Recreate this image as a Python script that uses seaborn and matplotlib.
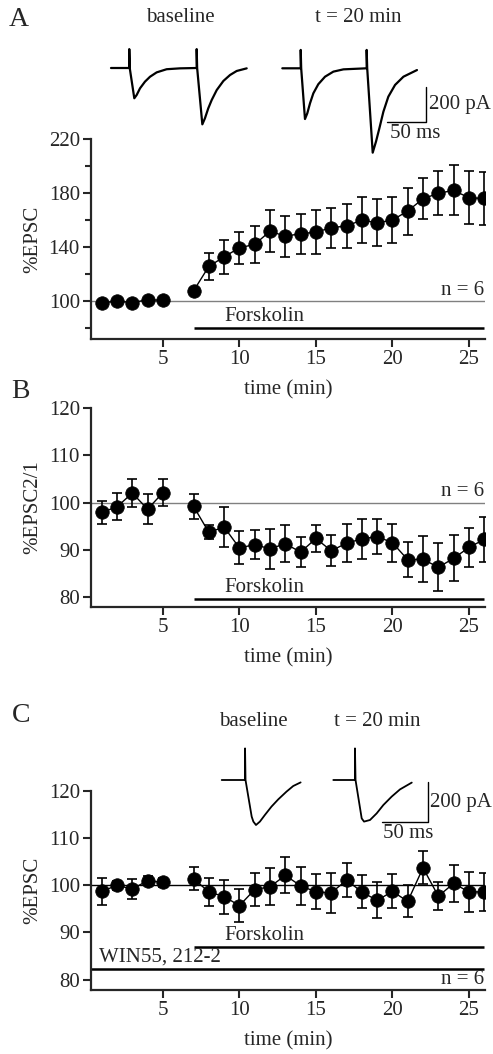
import numpy as np
import pandas as pd
import matplotlib
matplotlib.use("Agg")
import matplotlib.pyplot as plt
import seaborn as sns

# ---------------- data ----------------
time_min = [1, 2, 3, 4, 5, 7, 8, 9, 10, 11, 12, 13, 14, 15, 16, 17, 18, 19, 20, 21, 22, 23, 24, 25, 26]

epsc_A = [98.8, 100, 99, 101, 100.7, 107.6, 125.7, 132.8, 139.5, 142, 151.8, 148, 150, 151,
          154.4, 155.6, 160, 158, 160, 166.7, 175.8, 179.8, 182, 176.5, 176]
sem_A = [1.5, 1.5, 1.5, 1.5, 1.5, 2, 10.2, 12.6, 12, 13.5, 15.3, 15, 14.8, 16.2, 14.7, 16.5,
         17, 17.5, 16.8, 17.4, 15.2, 16.4, 18.5, 19.6, 19.9]

ppr_B = [97.9, 99.1, 102, 98.6, 102.1, 99.2, 93.7, 94.8, 90.4, 91.1, 90.2, 91.3, 89.5, 92.4,
         89.8, 91.4, 92.3, 92.8, 91.5, 87.9, 88, 86.3, 88.2, 90.5, 92.2]
sem_B = [2.5, 2.9, 3, 3.2, 2.9, 2.7, 1.5, 4.2, 3.5, 3.1, 4.3, 3.9, 3.2, 2.9, 3.3, 4, 4.3, 3.7,
         4, 3.7, 4.9, 5.1, 4.9, 4.2, 4.7]

epsc_C = [98.7, 100, 99.2, 101, 100.6, 101.4, 98.6, 97.6, 95.7, 99.1, 99.7, 102.1, 99.9, 98.6,
          98.4, 101.1, 98.6, 96.8, 98.7, 96.6, 103.7, 97.7, 100.4, 98.6, 98.6]
sem_C = [2.9, 1.0, 2.2, 1.0, 1.0, 2.4, 2.9, 3.6, 3.5, 3.5, 3.9, 3.8, 4, 3.7, 4.2, 3.6, 3.5, 3.8,
         3.6, 3.4, 3.5, 2.9, 3.9, 4.3, 4.1]

forskolin_period = [7, 26]
win_period = [0.3, 26]

x_ticks = [5, 10, 15, 20, 25]

# example traces (ms, pA)
trA_base_t = [0, 23.6, 23.6, 24.2, 30.1, 33.2, 37.5, 43.9, 50.4, 59.0, 71.9, 89.1, 110.7,
              110.7, 111.3, 118.0, 121.4, 125.7, 130.1, 136.6, 145.2, 153.8, 162.4, 175.3]
trA_base_i = [0, 0, 108, 0, -173, -154, -116, -78, -50, -25, -7, -2, 0,
              108, 0, -322, -287, -230, -183, -126, -74, -40, -17, -2]
trA_t20_t = [0, 23.8, 23.8, 24.4, 29.3, 32.3, 35.8, 40.1, 46.5, 55.2, 66, 79, 109,
             109, 109.7, 116.8, 121.1, 125.4, 130.6, 137, 145.7, 156.5, 174]
trA_t20_i = [0, 0, 105, 0, -290, -257, -200, -143, -91, -48, -19, -6, 0,
             105, 0, -482, -418, -343, -248, -162, -95, -48, -10]
trC_base_t = [0, 25, 25, 25.5, 32.1, 33.9, 36.7, 40.9, 46.2, 53.3, 60.5, 69.4, 76.6, 84.5]
trC_base_i = [0, 0, 158, 0, -183, -208, -225, -208, -175, -133, -97, -58, -30, -12]
trC_t20_t = [0, 23.2, 23.2, 23.8, 30.4, 32.9, 39.3, 46.4, 53.6, 62.5, 71.4, 84]
trC_t20_i = [0, 0, 158, 0, -192, -208, -200, -167, -125, -83, -47, -13]

# ---------------- style ----------------
sns.set_style("ticks")
plt.rcParams['font.family'] = ['Liberation Serif', 'DejaVu Serif']
plt.rcParams['axes.linewidth'] = 1.6
FS = 15

W, H = 493, 1054
fig = plt.figure(figsize=(W / 100, H / 100), dpi=100)


def px_axes(x0, y0, x1, y1):
    return fig.add_axes([x0 / W, 1 - y1 / H, (x1 - x0) / W, (y1 - y0) / H])


def ftext(x, y, s, **kw):
    kw.setdefault('fontsize', FS)
    fig.text(x / W, 1 - y / H, s, **kw)


def panel(ax, values, sems, ylim, yticks, ylabel, ref_color, minor=None):
    df = pd.DataFrame({'time': time_min, 'val': values, 'sem': sems})
    df['seg'] = (df['time'] > 6).astype(int)
    ax.axhline(100, color=ref_color, lw=1.0, zorder=1)
    sns.lineplot(data=df, x='time', y='val', units='seg', estimator=None,
                 color='black', lw=1.0, ax=ax, zorder=2)
    ax.errorbar(df['time'], df['val'], yerr=df['sem'], fmt='none', ecolor='black',
                elinewidth=1.2, capsize=3.6, capthick=1.2, zorder=3)
    sns.scatterplot(data=df, x='time', y='val', s=95, color='black', edgecolor='black',
                    linewidth=0.5, ax=ax, zorder=4, legend=False)
    ax.set_xlim(0.3, 26.05)
    ax.set_ylim(*ylim)
    ax.set_xticks(x_ticks)
    ax.set_yticks(yticks)
    if minor is not None:
        ax.set_yticks(minor, minor=True)
    ax.tick_params(axis='both', which='major', direction='out', length=6, width=1.5,
                   labelsize=FS, pad=2)
    ax.tick_params(axis='y', which='minor', direction='out', length=4, width=1.5)
    sns.despine(ax=ax)
    ax.set_xlabel('time (min)', fontsize=FS)
    ax.xaxis.set_label_coords(0.5, -0.205)
    ax.set_ylabel(ylabel, fontsize=FS)
    ax.yaxis.set_label_coords(-0.125, 0.5)
    ax.set_facecolor('none')


def drug_bar(ax, period, y, label, label_x, ha='center'):
    ax.plot(period, [y, y], color='black', lw=1.8, solid_capstyle='butt', clip_on=False)
    ax.annotate(label, (label_x, y), xytext=(0, 1.5), textcoords='offset points',
                ha=ha, va='bottom', fontsize=FS)


# ---- Panel A ----
axA = px_axes(91, 139, 485, 339)
panel(axA, epsc_A, sem_A, (72, 220), [100, 140, 180, 220], '%EPSC', '#808080',
      minor=[80, 120, 160, 200])
drug_bar(axA, forskolin_period, 80, 'Forskolin', 11.6)
axA.annotate('n = 6', (26.0, 100), xytext=(0, 1), textcoords='offset points',
             ha='right', va='bottom', fontsize=FS)

# ---- Panel B ----
axB = px_axes(91, 408, 485, 607)
panel(axB, ppr_B, sem_B, (77.9, 120), [80, 90, 100, 110, 120], '%EPSC2/1', '#808080')
drug_bar(axB, forskolin_period, 79.6, 'Forskolin', 11.6)
axB.annotate('n = 6', (26.0, 100), xytext=(0, 1), textcoords='offset points',
             ha='right', va='bottom', fontsize=FS)

# ---- Panel C ----
axC = px_axes(91, 791, 485, 990)
panel(axC, epsc_C, sem_C, (77.8, 120), [80, 90, 100, 110, 120], '%EPSC', 'black')
drug_bar(axC, forskolin_period, 87.0, 'Forskolin', 11.6)
drug_bar(axC, win_period, 82.3, 'WIN55, 212-2', 0.85, ha='left')
axC.annotate('n = 6', (26.0, 77.8), xytext=(0, 1.0), textcoords='offset points',
             ha='right', va='bottom', fontsize=FS)


# ---- example traces ----
def trace_axes(box, origin, kx, ky):
    x0, y0, x1, y1 = box
    ox, oy = origin
    ax = px_axes(x0, y0, x1, y1)
    ax.set_xlim((x0 - ox) * kx, (x1 - ox) * kx)
    ax.set_ylim((oy - y1) * ky, (oy - y0) * ky)
    ax.axis('off')
    ax.patch.set_alpha(0)
    return ax


kxA, kyA = 50 / 38.7, 200 / 35
t1 = trace_axes((100, 40, 260, 160), (111, 68), kxA, kyA)
t1.plot(trA_base_t, trA_base_i, color='black', lw=1.6, solid_joinstyle='round')
t2 = trace_axes((272, 40, 440, 160), (282.3, 68.3), kxA, kyA)
t2.plot(trA_t20_t, trA_t20_i, color='black', lw=1.6, solid_joinstyle='round')
t2.plot([135.7, 185.7, 185.7], [-308.6, -308.6, -108.6], color='black', lw=1.0)

kxC, kyC = 50 / 46.7, 200 / 40
t3 = trace_axes((212, 740, 320, 840), (221.7, 780), kxC, kyC)
t3.plot(trC_base_t, trC_base_i, color='black', lw=1.3, solid_joinstyle='round')
t4 = trace_axes((325, 740, 440, 840), (333.3, 780), kxC, kyC)
t4.plot(trC_t20_t, trC_t20_i, color='black', lw=1.3, solid_joinstyle='round')
t4.plot([51.7, 101.7, 101.7], [-208.5, -208.5, -8.5], color='black', lw=1.0)

# ---- figure texts ----
ftext(19, 19, 'A', fontsize=20, ha='center', va='center')
ftext(20, 392, 'B', fontsize=20, ha='center', va='center')
ftext(21, 716, 'C', fontsize=20, ha='center', va='center')
ftext(180, 17, 'baseline', ha='center', va='center')
ftext(358, 17, 't = 20 min', ha='center', va='center')
ftext(429, 105, '200 pA', ha='left', va='center')
ftext(390, 133, '50 ms', ha='left', va='center')
ftext(253, 722, 'baseline', ha='center', va='center')
ftext(377, 722, 't = 20 min', ha='center', va='center')
ftext(430, 803, '200 pA', ha='left', va='center')
ftext(383, 833, '50 ms', ha='left', va='center')

fig.savefig('out.png', dpi=100)
